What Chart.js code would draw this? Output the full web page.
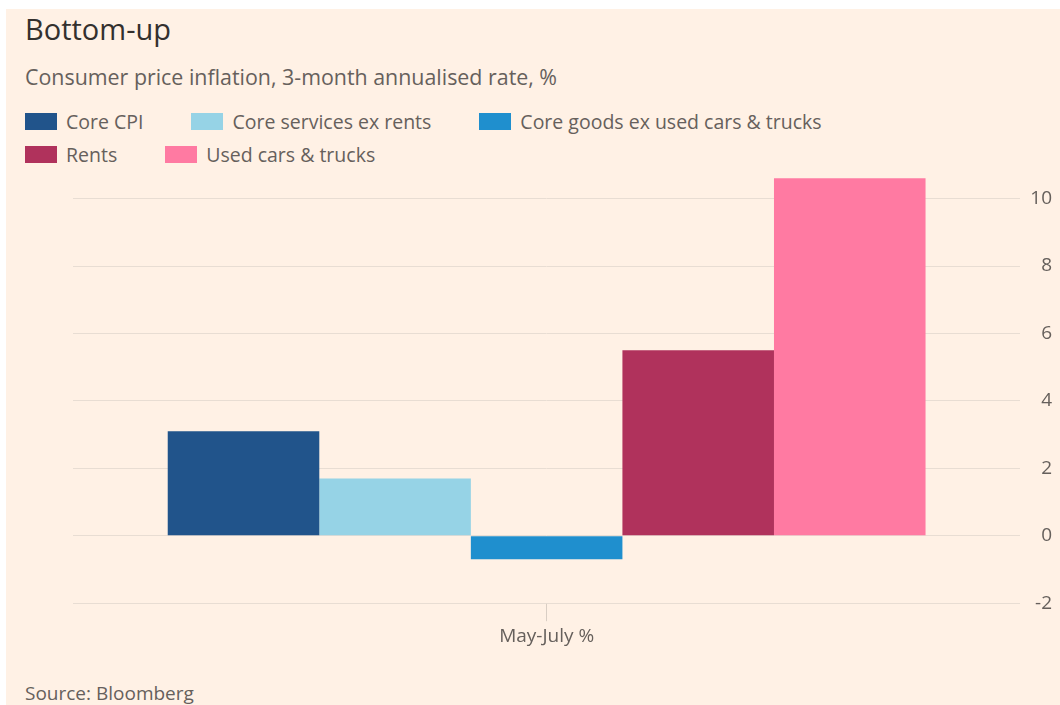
<!DOCTYPE html>
<html>
<head>
<meta charset="utf-8">
<script src="https://cdn.jsdelivr.net/npm/chart.js@4"></script>
<style>
  html, body { margin: 0; padding: 0; background: #fff; }
  body { width: 1060px; height: 705px; position: relative; overflow: hidden; font-family: "Open Sans", sans-serif; }
  #panel { position: absolute; left: 6px; top: 9px; right: 0; bottom: 0; background: #fff1e5; }
  .txt { position: absolute; left: 25px; white-space: nowrap; }
  #title { top: 9px; font-size: 29px; color: #33302e; }
  #subtitle { top: 62px; font-size: 21.4px; color: #66605c; }
  #source { top: 680px; font-size: 19px; color: #66605c; }
  .legend-row { position: absolute; left: 25px; display: flex; align-items: center; font-size: 19.5px; color: #66605c; }
  .item { display: flex; align-items: center; margin-right: 48px; }
  .swatch { width: 32px; height: 17px; margin-right: 9px; }
  #chartWrap { position: absolute; left: 0; top: 155px; width: 1060px; height: 505px; }
</style>
</head>
<body>
<div id="panel"></div>
<div class="txt" id="title">Bottom-up</div>
<div class="txt" id="subtitle">Consumer price inflation, 3-month annualised rate, %</div>
<div class="legend-row" id="row1" style="top:108px"></div>
<div class="legend-row" id="row2" style="top:141px"></div>
<div id="chartWrap"><canvas id="chart"></canvas></div>
<div class="txt" id="source">Source: Bloomberg</div>

<script>
// chart data
const categories = ['May-July %'];
const seriesNames = ['Core CPI', 'Core services ex rents', 'Core goods ex used cars & trucks', 'Rents', 'Used cars & trucks'];
const seriesValues = [3.1, 1.7, -0.7, 5.5, 10.6];
const seriesColors = ['#21548b', '#96d3e6', '#1f8fce', '#b0325c', '#ff7aa2'];
const yTicks = [-2, 0, 2, 4, 6, 8, 10];

// html legend, two rows like the original
const legendRows = [[0, 1, 2], [3, 4]];
legendRows.forEach((row, r) => {
    const el = document.getElementById('row' + (r + 1));
    row.forEach(i => {
        const item = document.createElement('div');
        item.className = 'item';
        item.innerHTML = '<span class="swatch" style="background:' + seriesColors[i] + '"></span>' + seriesNames[i];
        el.appendChild(item);
    });
});

const gridColor = '#e8ddd3';

new Chart(document.getElementById('chart'), {
    type: 'bar',
    data: {
        labels: categories,
        datasets: seriesNames.map((name, i) => ({
            label: name,
            data: [seriesValues[i]],
            backgroundColor: seriesColors[i],
            categoryPercentage: 0.8,
            barPercentage: 1.0
        }))
    },
    options: {
        responsive: true,
        maintainAspectRatio: false,
        animation: false,
        layout: { padding: { left: 73, right: 8, top: 20, bottom: 8 } },
        plugins: {
            legend: { display: false },
            tooltip: { enabled: false }
        },
        scales: {
            x: {
                grid: {
                    offset: false,
                    drawOnChartArea: false,
                    drawTicks: true,
                    tickLength: 18,
                    color: '#d9cec4'
                },
                border: { display: false },
                ticks: {
                    color: '#66605c',
                    font: { family: 'Open Sans', size: 19 },
                    padding: 4
                }
            },
            y: {
                position: 'right',
                min: -2,
                max: 10.7,
                afterBuildTicks: axis => { axis.ticks = yTicks.map(v => ({ value: v })); },
                grid: { color: gridColor, drawTicks: false },
                border: { display: false },
                ticks: {
                    color: '#66605c',
                    font: { family: 'Open Sans', size: 19 },
                    padding: 5,
                    crossAlign: 'far'
                }
            }
        }
    }
});
</script>
</body>
</html>
